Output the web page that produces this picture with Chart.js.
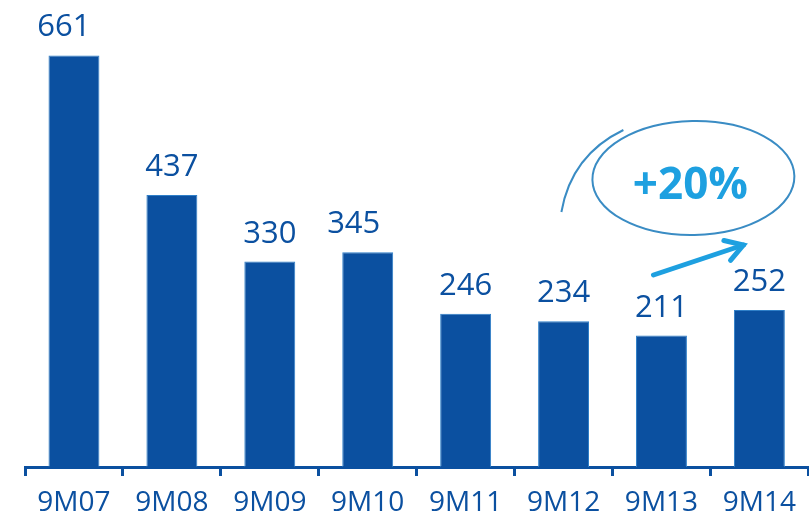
<!DOCTYPE html>
<html>
<head>
<meta charset="utf-8">
<script src="https://cdn.jsdelivr.net/npm/chart.js@4/dist/chart.umd.min.js"></script>
<style>
  html, body { margin: 0; padding: 0; background: #fff; }
  #wrap { width: 809px; height: 516px; position: relative; }
</style>
</head>
<body>
<div id="wrap"><canvas id="chart"></canvas></div>
<script>
const periods = ['9M07', '9M08', '9M09', '9M10', '9M11', '9M12', '9M13', '9M14'];
const values = [661, 437, 330, 345, 246, 234, 211, 252];
const growthLabel = '+20%';

const darkBlue = '#0b50a0';
const lightBlue = '#1ea0e0';

// value labels above each bar (a couple sit a bit left in the original)
const labelNudge = [-10, 0, 0, -14, 0, 0, 0, 0];
const valueLabels = {
    id: 'valueLabels',
    afterDatasetsDraw(chart) {
        const ctx = chart.ctx;
        const meta = chart.getDatasetMeta(0);
        ctx.save();
        ctx.fillStyle = darkBlue;
        ctx.font = '31px "Open Sans"';
        ctx.textAlign = 'center';
        ctx.textBaseline = 'alphabetic';
        meta.data.forEach((bar, i) => {
            ctx.fillText(String(values[i]), bar.x + labelNudge[i], bar.y - 19);
        });
        ctx.restore();
    }
};

// hand-drawn ellipse, "+20%" and arrow near the last bars
const growthNote = {
    id: 'growthNote',
    afterDraw(chart) {
        const ctx = chart.ctx;
        const meta = chart.getDatasetMeta(0);
        const last = meta.data[7];
        const prev = meta.data[6];
        const cx = last.x - 66, cy = 178;
        ctx.save();
        ctx.strokeStyle = '#3a8cc4';
        ctx.lineWidth = 2;
        ctx.beginPath();
        ctx.ellipse(cx, cy, 101, 57, -0.02, 0, Math.PI * 2);
        ctx.stroke();
        // swoosh tail
        ctx.beginPath();
        ctx.moveTo(cx - 132, 212);
        ctx.quadraticCurveTo(cx - 122, 155, cx - 70, 130);
        ctx.stroke();

        ctx.fillStyle = lightBlue;
        ctx.font = 'bold 44px "Open Sans"';
        ctx.textAlign = 'center';
        ctx.textBaseline = 'middle';
        ctx.fillText(growthLabel, cx - 3, cy + 8);

        // arrow
        const x0 = prev.x - 8, y0 = 275, x1 = last.x - 16, y1 = 245;
        ctx.strokeStyle = lightBlue;
        ctx.lineWidth = 5;
        ctx.lineCap = 'round';
        ctx.beginPath();
        ctx.moveTo(x0, y0);
        ctx.lineTo(x1, y1);
        ctx.stroke();
        const ang = Math.atan2(y1 - y0, x1 - x0);
        const len = 20;
        ctx.beginPath();
        ctx.moveTo(x1 - len * Math.cos(ang - 0.55), y1 - len * Math.sin(ang - 0.55));
        ctx.lineTo(x1, y1);
        ctx.lineTo(x1 - len * Math.cos(ang + 0.55), y1 - len * Math.sin(ang + 0.55));
        ctx.stroke();
        ctx.restore();
    }
};

new Chart(document.getElementById('chart'), {
    type: 'bar',
    data: {
        labels: periods,
        datasets: [{
            data: values,
            backgroundColor: darkBlue,
            borderColor: '#2f7fc8',
            borderWidth: 1,
            categoryPercentage: 1,
            barPercentage: 0.52
        }]
    },
    options: {
        responsive: true,
        maintainAspectRatio: false,
        animation: false,
        layout: { padding: { left: 25, right: 0, top: 0, bottom: 0 } },
        plugins: { legend: { display: false }, tooltip: { enabled: false } },
        scales: {
            x: {
                offset: true,
                afterFit(scale) { scale.height = 49; },
                grid: {
                    offset: true,
                    drawOnChartArea: false,
                    drawTicks: true,
                    tickLength: 9,
                    color: darkBlue,
                    lineWidth: 3
                },
                border: { display: true, color: darkBlue, width: 3 },
                ticks: {
                    color: darkBlue,
                    font: { family: '"Open Sans"', size: 28, lineHeight: 1.0 },
                    padding: 13
                }
            },
            y: {
                display: false,
                min: 0,
                max: 750
            }
        }
    },
    plugins: [valueLabels, growthNote]
});
</script>
</body>
</html>
